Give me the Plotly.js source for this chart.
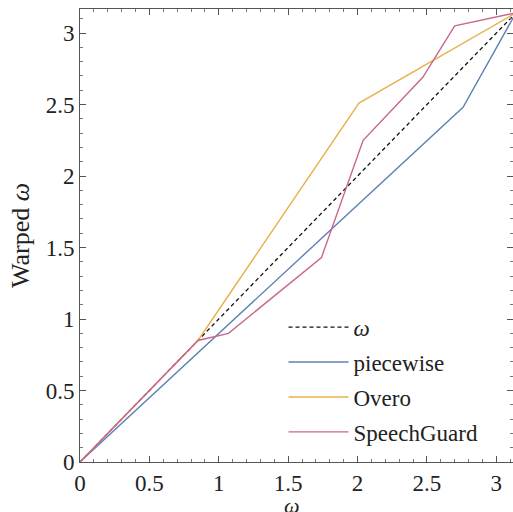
<!DOCTYPE html>
<html>
<head>
<meta charset="utf-8">
<script src="https://cdn.plot.ly/plotly-3.0.1.min.js"></script>
<style>html,body{margin:0;padding:0;background:#fff;}#chart{width:513px;height:512px;}</style>
</head>
<body>
<div id="chart"></div>
<script>
const PI = Math.PI;
const identityX = [0, PI];
const identityY = [0, PI];
const piecewiseX = [0, 2.76, PI];
const piecewiseY = [0, 2.48, PI];
const overoX = [0, 0.85, 2.01, PI];
const overoY = [0, 0.85, 2.51, PI];
const speechX = [0, 0.85, 1.07, 1.74, 2.04, 2.47, 2.70, PI];
const speechY = [0, 0.85, 0.90, 1.43, 2.25, 2.69, 3.05, PI];
const names = ['<i>ω</i>', 'piecewise', 'Overo', 'SpeechGuard'];
const xTitle = '<i>ω</i>';
const yTitle = 'Warped <i>ω</i>';

const serif = 'Liberation Serif';
const traces = [
  {x: identityX, y: identityY, name: names[0], legendgroup: 'a', mode: 'lines',
   line: {color: '#111', width: 1.3, dash: '4px,3px'}},
  {x: piecewiseX, y: piecewiseY, name: names[1], legendgroup: 'b', mode: 'lines',
   line: {color: '#5e81b5', width: 1.4}},
  {x: overoX, y: overoY, name: names[2], legendgroup: 'c', mode: 'lines',
   line: {color: '#e8b04a', width: 1.4}},
  {x: speechX, y: speechY, name: names[3], legendgroup: 'd', mode: 'lines',
   line: {color: '#c9668f', width: 1.4}}
];
function makeAxis(extra) {
  return Object.assign({
    showline: true, linecolor: '#555', linewidth: 1, mirror: 'ticks',
    tickmode: 'linear', tick0: 0, dtick: 0.5,
    ticks: 'inside', ticklen: 6, tickcolor: '#555', tickwidth: 1,
    showgrid: false, zeroline: false,
    tickfont: {family: serif, size: 23, color: '#222'},
    minor: {ticks: 'inside', ticklen: 3, tickcolor: '#777', tickwidth: 1, dtick: 0.1, tick0: 0, showgrid: false}
  }, extra);
}
const layout = {
  width: 513, height: 512,
  margin: {l: 80, r: 0, t: 9, b: 50},
  paper_bgcolor: '#fff', plot_bgcolor: '#fff',
  font: {family: serif, color: '#222'},
  xaxis: makeAxis({range: [0, 3.12]}),
  yaxis: makeAxis({
    range: [0, 3.168],
    title: {text: yTitle, font: {family: serif, size: 26, color: '#222'}, standoff: 8}
  }),
  annotations: [
    {text: xTitle, xref: 'paper', yref: 'paper', x: 0.49, y: -0.097,
     xanchor: 'center', yanchor: 'middle', showarrow: false,
     font: {family: serif, size: 22, color: '#222'}}
  ],
  showlegend: true,
  legend: {
    x: 0.47, y: 0.345, xanchor: 'left', yanchor: 'top',
    bgcolor: 'rgba(255,255,255,0)', borderwidth: 0,
    font: {family: serif, size: 23, color: '#222'},
    traceorder: 'grouped', tracegroupgap: 2, itemwidth: 60
  }
};
Plotly.newPlot('chart', traces, layout, {displayModeBar: false, staticPlot: true});
</script>
</body>
</html>
